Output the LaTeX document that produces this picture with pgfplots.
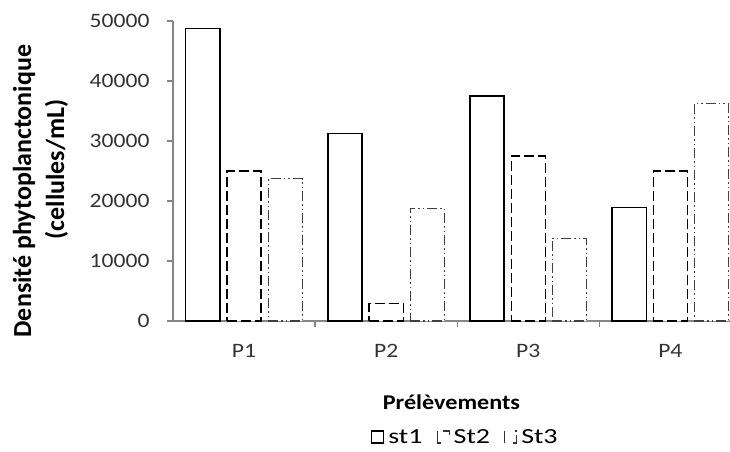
\documentclass[border=0pt]{standalone}
\usepackage{fontspec}
\setmainfont{Carlito}
\newfontfamily\wfont{Carlito}[FakeStretch=1.15]
\newfontfamily\lfont{Carlito}[FakeStretch=1.3]
\usepackage{pgfplots}
\pgfplotsset{compat=1.18}
\definecolor{axgray}{HTML}{868686}
\begin{document}
\begin{tikzpicture}
\begin{axis}[
  scale only axis,
  width=557pt, height=300pt,
  xmin=-0.5, xmax=3.42,
  ymin=0, ymax=50000,
  axis x line*=bottom, axis y line*=left,
  axis line style={axgray, line width=1.5pt},
  tick align=outside,
  ytick={0,10000,20000,30000,40000,50000},
  scaled y ticks=false,
  /pgf/number format/.cd, 1000 sep={}, fixed, assume math mode=true,
  /pgfplots/.cd,
  y tick style={axgray, line width=1.2pt},
  major tick length=6pt,
  minor tick length=6pt,
  xtick={0,1,2,3},
  xticklabels={P1,P2,P3,P4},
  major x tick style={draw=none},
  minor xtick={0.5,1.5,2.5},
  minor x tick style={axgray, line width=1.2pt},
  tick label style={font=\wfont\fontsize{20.5}{24}\selectfont, text=black!80},
  xticklabel style={yshift=-14pt},
  yticklabel style={xshift=-14pt},
  xlabel={Prélèvements},
  xlabel style={font=\wfont\bfseries\fontsize{21}{24}\selectfont, at={(axis description cs:0.5,0)}, anchor=north, yshift=-70pt},
  ylabel={Densité phytoplanctonique\\[6pt]\hspace*{98pt}(cellules/mL)},
  ylabel style={font=\bfseries\fontsize{26}{27}\selectfont, align=left, at={(axis description cs:-0.238,0.433)}, anchor=center},
  legend style={at={(axis description cs:0.350,0)}, anchor=north west, yshift=-104pt, draw=none, fill=none,
    legend columns=3, font=\lfont\fontsize{21.5}{24}\selectfont,
    /tikz/every odd column/.append style={column sep=2pt},
    /tikz/every even column/.append style={column sep=12pt}},
  legend cell align=left,
  clip=false,
]
\addplot[ybar, bar width=0.24, bar shift=-0.29, draw=black, line width=1.3pt, fill=white,
  legend image code/.code={\draw[black, fill=none, solid, line width=1.2pt] (0pt,-6pt) rectangle (12pt,6pt);}]
  coordinates {(0,48800) (1,31300) (2,37500) (3,18900)};
\addplot[ybar, bar width=0.24, bar shift=0, draw=black, line width=1.3pt, fill=white, dash pattern=on 10pt off 4pt,
  legend image code/.code={\draw[black!80, fill=none, solid, line width=1.2pt] (0pt,-6pt) -- (0pt,6pt) (0pt,-6pt) -- (4pt,-6pt) (6pt,6pt) -- (12pt,6pt) -- (12pt,2pt);}]
  coordinates {(0,25000) (1,2900) (2,27500) (3,25000)};
\addplot[ybar, bar width=0.24, bar shift=0.29, draw=black!75, line width=1.3pt, fill=white, dash pattern=on 10pt off 3pt on 1.5pt off 3pt on 1.5pt off 3pt,
  legend image code/.code={\draw[black!80, fill=none, solid, line width=1.2pt] (0pt,-6pt) -- (0pt,6pt) (12pt,2pt) -- (12pt,-6pt) -- (8pt,-6pt) (10pt,6pt) -- (12pt,6pt);}]
  coordinates {(0,23700) (1,18800) (2,13800) (3,36200)};
\legend{st1,St2,St3}
\end{axis}
\pgfresetboundingbox
\path (current axis.south west) ++(-173pt,-130pt) rectangle ++(730pt,451pt);
\end{tikzpicture}
\end{document}
